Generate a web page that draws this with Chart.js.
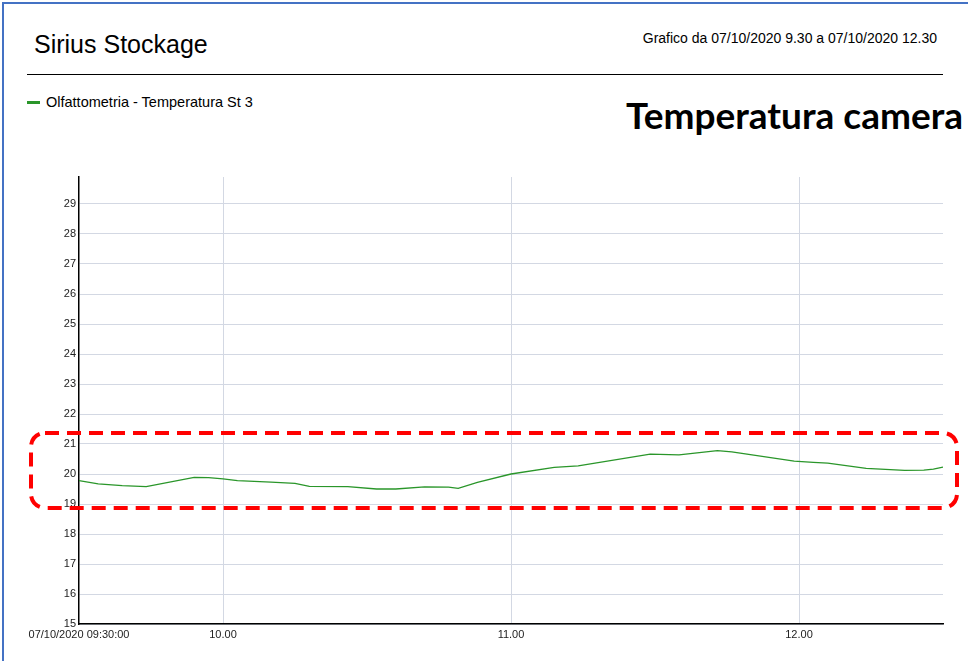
<!DOCTYPE html>
<html>
<head>
<meta charset="utf-8">
<script src="https://cdn.jsdelivr.net/npm/chart.js@4.4.1/dist/chart.umd.min.js"></script>
<style>
    html, body { margin: 0; padding: 0; background: #fff; overflow: hidden; }
    body { width: 968px; height: 661px; position: relative; font-family: "Liberation Sans", Arial, sans-serif; }
    .frame { position: absolute; left: 2px; top: 2px; width: 980px; height: 680px; border-left: 2px solid #4472c4; border-top: 2px solid #4472c4; }
    .title { position: absolute; left: 34px; top: 30px; font-size: 25px; color: #000; }
    .range { position: absolute; right: 31px; top: 30px; font-size: 14px; color: #000; }
    .rule { position: absolute; left: 27px; top: 74px; width: 916px; height: 0; border-top: 1.5px solid #000; }
    .legend { position: absolute; left: 27px; top: 94px; font-size: 14.5px; color: #000; }
    .legend span.swatch { display: inline-block; width: 13px; height: 3px; background: #2a962a; vertical-align: middle; margin-right: 6px; position: relative; top: -1px; }
    .big { position: absolute; left: 626px; top: 92px; font-family: Lato, "Open Sans", sans-serif; font-weight: bold; font-size: 37px; color: #000; white-space: nowrap; }
    .chart-box { position: absolute; left: 0; top: 160px; width: 968px; height: 501px; }
</style>
</head>
<body>
<div class="frame"></div>
<div class="title">Sirius Stockage</div>
<div class="range">Grafico da 07/10/2020 9.30 a 07/10/2020 12.30</div>
<div class="rule"></div>
<div class="legend"><span class="swatch"></span>Olfattometria - Temperatura St 3</div>
<div class="big">Temperatura camera</div>
<div class="chart-box"><canvas id="chart-temp"></canvas></div>
<script>
// minutes after 09:30 and the reading at that time
const minutes = [0, 4, 9, 14, 24, 27, 30, 33, 40, 45, 48, 56, 62, 66, 72, 77, 79, 83, 90,
    99, 104, 119, 125, 133, 136, 149, 153, 156, 164, 167, 172, 176, 178, 180];
const temperatures = [19.78, 19.67, 19.61, 19.58, 19.89, 19.88, 19.84, 19.78, 19.73, 19.69, 19.59, 19.58, 19.50, 19.50, 19.57, 19.56, 19.52, 19.72, 20.0,
    20.22, 20.27, 20.66, 20.64, 20.78, 20.74, 20.43, 20.39, 20.36, 20.19, 20.16, 20.12, 20.13, 20.16, 20.23];

const xTickValues = [0, 30, 90, 150];
const xTickLabels = ['07/10/2020 09:30:00', '10.00', '11.00', '12.00'];
const yTickValues = [15, 16, 17, 18, 19, 20, 21, 22, 23, 24, 25, 26, 27, 28, 29];

// highlighted band (value range) for the red dashed box
const highlightTop = 21.37;
const highlightBottom = 18.87;

const highlightBox = {
    id: 'highlightBox',
    afterDraw(chart) {
        const ctx = chart.ctx;
        const y = chart.scales.y;
        const area = chart.chartArea;
        const top = y.getPixelForValue(highlightTop);
        const bottom = y.getPixelForValue(highlightBottom);
        const left = area.left - 48;
        const right = area.right + 14;
        ctx.save();
        ctx.strokeStyle = '#ff0000';
        ctx.lineWidth = 4;
        ctx.setLineDash([14, 8]);
        ctx.beginPath();
        ctx.roundRect(left, top, right - left, bottom - top, 14);
        ctx.stroke();
        ctx.restore();
    }
};

const ctx = document.getElementById('chart-temp').getContext('2d');
new Chart(ctx, {
    type: 'line',
    data: {
        datasets: [{
            label: 'Olfattometria - Temperatura St 3',
            data: minutes.map((m, i) => ({ x: m, y: temperatures[i] })),
            borderColor: '#2a962a',
            borderWidth: 1.3,
            pointRadius: 0,
            tension: 0,
            fill: false
        }]
    },
    options: {
        responsive: true,
        maintainAspectRatio: false,
        animation: false,
        layout: { padding: { top: 17, right: 25, left: 0, bottom: 0 } },
        plugins: {
            legend: { display: false },
            tooltip: { enabled: false }
        },
        scales: {
            x: {
                type: 'linear',
                min: 0,
                max: 180,
                afterBuildTicks: scale => { scale.ticks = xTickValues.map(v => ({ value: v })); },
                afterFit: scale => { scale.height = 37; },
                ticks: {
                    autoSkip: false,
                    maxRotation: 0,
                    padding: 4,
                    color: '#222',
                    font: { family: 'Liberation Sans', size: 11 },
                    callback: value => xTickLabels[xTickValues.indexOf(value)]
                },
                grid: {
                    drawTicks: false,
                    color: c => (c.tick && c.tick.value === 0) ? 'rgba(0,0,0,0)' : '#d3d8e3',
                    lineWidth: 1
                },
                border: { color: '#000', width: 1.5 }
            },
            y: {
                min: 15,
                max: 29.9,
                afterBuildTicks: scale => { scale.ticks = yTickValues.map(v => ({ value: v })); },
                afterFit: scale => { scale.width = 79; },
                ticks: {
                    padding: 3,
                    color: '#222',
                    font: { family: 'Liberation Sans', size: 11 }
                },
                grid: { drawTicks: false, color: '#d3d8e3', lineWidth: 1 },
                border: { color: '#000', width: 1.5 }
            }
        }
    },
    plugins: [highlightBox]
});
</script>
</body>
</html>
